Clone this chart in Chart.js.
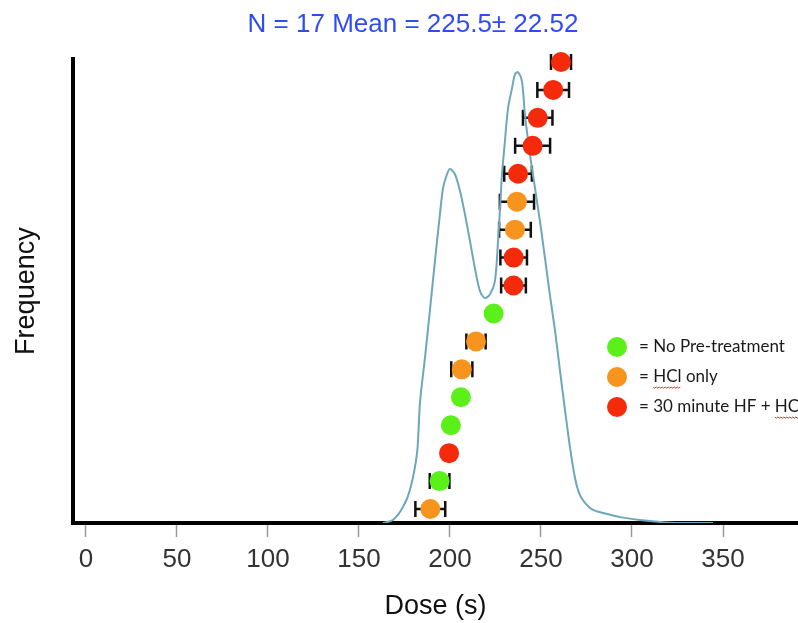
<!DOCTYPE html>
<html>
<head>
<meta charset="utf-8">
<script src="https://cdn.jsdelivr.net/npm/chart.js@4.4.1/dist/chart.umd.min.js"></script>
<style>
    html, body { margin: 0; padding: 0; background: #fff; }
    #wrap { width: 798px; height: 623px; }
</style>
</head>
<body>
<div id="wrap"><canvas id="Chart" width="798" height="623"></canvas></div>
<script>
// one entry per sample, bottom of the stack to the top
const doses = [189.2, 194.3, 199.5, 200.5, 206.0, 206.5, 214.3, 224.0, 234.9, 235.0, 235.7, 236.8, 237.4, 245.4, 248.2, 256.7, 261.0];
const doseErr = [8.2, 5.4, 1.5, 1.5, 1.5, 5.8, 5.3, 2, 6.8, 7.3, 8.7, 9.4, 7.6, 9.6, 8.1, 8.7, 5.5];
const stackPos = [0.5, 1.5, 2.5, 3.5, 4.5, 5.5, 6.5, 7.5, 8.5, 9.5, 10.5, 11.5, 12.5, 13.5, 14.5, 15.5, 16.5];
// 0 = no pre-treatment, 1 = HCl only, 2 = 30 min HF + HCl
const groups = [1, 0, 2, 0, 0, 1, 1, 0, 2, 2, 1, 1, 2, 2, 2, 2, 2];
const groupLabels = ["= No Pre-treatment", "= HCl only", "= 30 minute HF + HCl"];
const groupColors = ["#5cf01a", "#f7941d", "#f52a0a"];

// frequency curve
const curveX = [163.2, 168.7, 174.2, 178.0, 181.9, 183.5, 186.3, 189.0, 191.2, 192.9, 194.5, 196.2, 198.4, 200.0, 202.7, 205.5, 208.2, 211.0, 213.7, 216.5, 219.2, 222.0, 224.7, 226.4, 227.5, 228.6, 230.2, 231.9, 234.1, 235.7, 237.4, 239.6, 241.2, 244.0, 246.7, 249.5, 252.2, 254.9, 257.7, 260.4, 263.2, 265.9, 268.7, 271.4, 275.3, 278.6, 284.1, 293.4, 304.4, 315.4, 326.4, 344.5];
const curveY = [0, 0.11, 0.57, 1.18, 2.5, 4.29, 5.94, 7.62, 9.03, 10.09, 11.06, 11.99, 12.49, 12.67, 12.49, 11.88, 11.06, 10.09, 9.12, 8.3, 8.05, 8.19, 8.66, 10.09, 11.27, 12.49, 13.67, 14.85, 15.56, 16.06, 16.14, 15.78, 14.6, 13.17, 11.99, 10.77, 9.48, 8.16, 6.89, 5.47, 4.04, 2.72, 1.61, 1.0, 0.64, 0.47, 0.36, 0.21, 0.11, 0.04, 0, 0];

const xTicks = [0, 50, 100, 150, 200, 250, 300, 350];

Chart.defaults.font.family = "'Liberation Sans', Arial, sans-serif";

// horizontal error bars, drawn under the markers
const errorBars = {
    id: "errorBars",
    beforeDatasetsDraw: function (chart) {
        const ctx = chart.ctx;
        const xs = chart.scales.x;
        const ys = chart.scales.y;
        ctx.save();
        ctx.strokeStyle = "#111";
        ctx.lineWidth = 2.5;
        doses.forEach(function (d, i) {
            let x1 = xs.getPixelForValue(d - doseErr[i]);
            let x2 = xs.getPixelForValue(d + doseErr[i]);
            let py = ys.getPixelForValue(stackPos[i]);
            ctx.beginPath();
            ctx.moveTo(x1, py);
            ctx.lineTo(x2, py);
            ctx.moveTo(x1, py - 8);
            ctx.lineTo(x1, py + 8);
            ctx.moveTo(x2, py - 8);
            ctx.lineTo(x2, py + 8);
            ctx.stroke();
        });
        ctx.restore();
    },
};

// colour key inside the plot
const groupKey = {
    id: "groupKey",
    afterDraw: function (chart) {
        const ctx = chart.ctx;
        ctx.save();
        ctx.font = "17px Lato";
        ctx.textBaseline = "middle";
        groupLabels.forEach(function (label, i) {
            let cy = 347 + i * 30;
            ctx.fillStyle = groupColors[i];
            ctx.beginPath();
            ctx.arc(617, cy, 10, 0, Math.PI * 2);
            ctx.fill();
            ctx.fillStyle = "#1a1a1a";
            ctx.fillText(label, 639, cy);
            // spell-check squiggle under "HCl"
            let k = label.indexOf("HCl");
            if (k >= 0) {
                let x0 = 639 + ctx.measureText(label.slice(0, k)).width;
                let w = ctx.measureText("HCl").width;
                ctx.strokeStyle = "#e0302a";
                ctx.lineWidth = 1;
                ctx.beginPath();
                for (let s = 0; s <= w; s += 1.5) {
                    let yy = cy + 10 + (Math.round(s / 1.5) % 2 ? 1.2 : 0);
                    if (s === 0) ctx.moveTo(x0 + s, yy);
                    else ctx.lineTo(x0 + s, yy);
                }
                ctx.stroke();
            }
        });
        ctx.restore();
    },
};

const pointSets = groupLabels.map(function (label, g) {
    let pts = [];
    doses.forEach(function (d, i) {
        if (groups[i] === g) pts.push({ x: d, y: stackPos[i] });
    });
    return {
        type: "scatter",
        label: label,
        data: pts,
        backgroundColor: groupColors[g],
        borderWidth: 0,
        pointRadius: 10,
        clip: false,
    };
});

const curveSet = {
    type: "line",
    label: "Frequency",
    data: curveX.map(function (x, i) { return { x: x, y: curveY[i] }; }),
    borderColor: "#6ea6bb",
    borderWidth: 2,
    pointRadius: 0,
    tension: 0.3,
    fill: false,
};

var chart = new Chart(document.getElementById("Chart").getContext("2d"), {
    data: { datasets: pointSets.concat([curveSet]) },
    plugins: [errorBars, groupKey],
    options: {
        responsive: false,
        animation: false,
        events: [],
        layout: { autoPadding: false, padding: { left: 28, right: 0, top: 0, bottom: 0 } },
        scales: {
            x: {
                type: "linear",
                min: -7.1,
                max: 391.2,
                afterBuildTicks: function (scale) {
                    scale.ticks = xTicks.map(function (v) { return { value: v }; });
                },
                afterFit: function (scale) {
                    scale.height = 100;
                    scale.paddingLeft = 0;
                    scale.paddingRight = 0;
                },
                ticks: {
                    font: { size: 26 },
                    color: "#333",
                    padding: 7,
                    maxRotation: 0,
                    autoSkip: false,
                },
                grid: {
                    display: true,
                    drawOnChartArea: false,
                    drawTicks: true,
                    tickLength: 14,
                    tickColor: "#999",
                    tickWidth: 1.5,
                },
                border: { display: true, color: "#000", width: 4 },
                title: {
                    display: true,
                    text: "Dose (s)",
                    color: "#111",
                    font: { size: 27 },
                    padding: { top: 0, bottom: 0 },
                },
            },
            y: {
                type: "linear",
                min: 0,
                max: 16.6,
                afterFit: function (scale) {
                    scale.width = 45;
                    scale.paddingTop = 0;
                    scale.paddingBottom = 0;
                },
                ticks: { display: false },
                grid: { display: false },
                border: { display: true, color: "#000", width: 4 },
                title: {
                    display: true,
                    text: "Frequency",
                    color: "#111",
                    font: { size: 27 },
                    padding: { top: -18, bottom: 0 },
                },
            },
        },
        plugins: {
            legend: { display: false },
            tooltip: { enabled: false },
            title: {
                display: true,
                text: "N = 17 Mean = 225.5\u00b1 22.52",
                color: "#2f4cf4",
                font: { size: 26, weight: "normal" },
                padding: { top: 9, bottom: 19 },
            },
        },
    },
});
</script>
</body>
</html>
